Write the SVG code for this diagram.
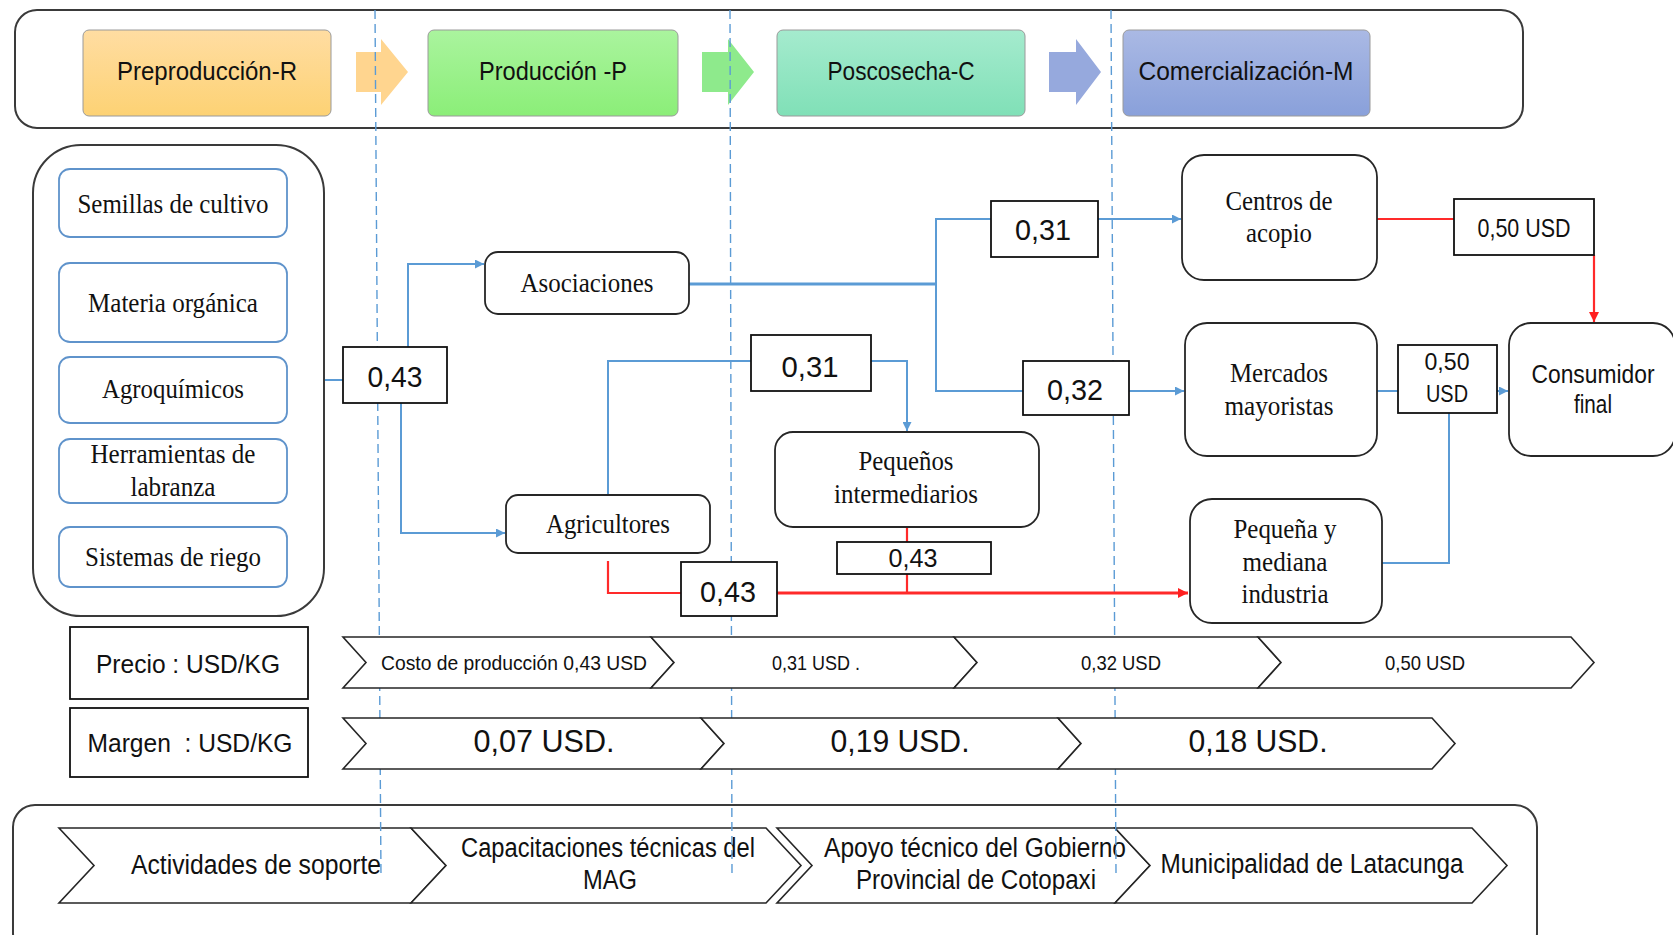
<svg xmlns="http://www.w3.org/2000/svg" width="1673" height="935" viewBox="0 0 1673 935">
<defs>
<linearGradient id="gO" x1="0" y1="0" x2="0" y2="1"><stop offset="0" stop-color="#FFDDA2"/><stop offset="1" stop-color="#FDD274"/></linearGradient>
<linearGradient id="gG" x1="0" y1="0" x2="0" y2="1"><stop offset="0" stop-color="#AAF49E"/><stop offset="1" stop-color="#8BEE78"/></linearGradient>
<linearGradient id="gT" x1="0" y1="0" x2="0" y2="1"><stop offset="0" stop-color="#A5EBCE"/><stop offset="1" stop-color="#80E0B7"/></linearGradient>
<linearGradient id="gB" x1="0" y1="0" x2="0" y2="1"><stop offset="0" stop-color="#AAB9E4"/><stop offset="1" stop-color="#89A0DA"/></linearGradient>
<marker id="ab" viewBox="0 0 10 10" refX="10" refY="5" markerWidth="9" markerHeight="9" markerUnits="userSpaceOnUse" orient="auto"><path d="M0,0 L10,5 L0,10 Z" fill="#5B9BD5"/></marker>
<marker id="ar" viewBox="0 0 10 10" refX="10" refY="5" markerWidth="10" markerHeight="10" markerUnits="userSpaceOnUse" orient="auto"><path d="M0,0 L10,5 L0,10 Z" fill="#FF2020"/></marker>
</defs>
<style>
.frame{fill:#fff;stroke:#3a3a3a;stroke-width:2}
.phase{stroke:#9a9a9a;stroke-width:1}
.item{fill:#fff;stroke:#5F93CB;stroke-width:1.8}
.node{fill:#fff;stroke:#262626;stroke-width:1.8}
.val{fill:#fff;stroke:#111;stroke-width:1.8}
.chev{fill:#fff;stroke:#262626;stroke-width:1.6}
.b{fill:none;stroke:#5B9BD5;stroke-width:2}
.r{fill:none;stroke:#FF2A2A;stroke-width:2.2}
.dash{fill:none;stroke:#5B9BD5;stroke-width:1.4;stroke-dasharray:9 5}
.sr{font-family:'Liberation Serif','Times New Roman',serif;font-size:27px;fill:#111;text-anchor:middle}
.ss{font-family:'Liberation Sans',Arial,sans-serif;fill:#111;text-anchor:middle}
</style>
<rect width="1673" height="935" fill="#fff"/>

<g id="top-banner">
<rect class="frame" x="15" y="10" width="1508" height="118" rx="22"/>
</g>
<g id="phase-arrows">
<path d="M356,52 H381 V39 L408,72 L381,105 V92 H356 Z" fill="#FFD58F"/>
<path d="M702,52 H728 V39 L754,72 L728,105 V92 H702 Z" fill="#8EEA8C"/>
<path d="M1049,52 H1076 V39 L1101,72 L1076,105 V92 H1049 Z" fill="#96A9DD"/>
</g>
<g id="preproduccion"><rect class="phase" x="83" y="30" width="248" height="86" rx="6" fill="url(#gO)"/><text class="ss" x="207" y="80" font-size="25" textLength="180" lengthAdjust="spacingAndGlyphs">Preproducción-R</text></g>
<g id="produccion"><rect class="phase" x="428" y="30" width="250" height="86" rx="6" fill="url(#gG)"/><text class="ss" x="553" y="80" font-size="25" textLength="148" lengthAdjust="spacingAndGlyphs">Producción -P</text></g>
<g id="poscosecha"><rect class="phase" x="777" y="30" width="248" height="86" rx="6" fill="url(#gT)"/><text class="ss" x="901" y="80" font-size="25" textLength="147" lengthAdjust="spacingAndGlyphs">Poscosecha-C</text></g>
<g id="comercializacion"><rect class="phase" x="1123" y="30" width="247" height="86" rx="6" fill="url(#gB)"/><text class="ss" x="1246" y="80" font-size="25" textLength="215" lengthAdjust="spacingAndGlyphs">Comercialización-M</text></g>

<g id="bottom-frame"><rect class="frame" x="13" y="805" width="1524" height="150" rx="22"/></g>
<g id="support-row">
<path class="chev" d="M59,828 H411 L446,865.5 L411,903 H59 L94,865.5 Z"/>
<path class="chev" d="M411,828 H766 L801,865.5 L766,903 H411 L446,865.5 Z"/>
<path class="chev" d="M777,828 H1115 L1150,865.5 L1115,903 H777 L812,865.5 Z"/>
<path class="chev" d="M1115,828 H1472 L1507,865.5 L1472,903 H1115 L1150,865.5 Z"/>
<text class="ss" x="256" y="874" font-size="27" textLength="250" lengthAdjust="spacingAndGlyphs">Actividades de soporte</text>
<text class="ss" x="608" y="857" font-size="27" textLength="294" lengthAdjust="spacingAndGlyphs">Capacitaciones técnicas del</text>
<text class="ss" x="610" y="889" font-size="27" textLength="54" lengthAdjust="spacingAndGlyphs">MAG</text>
<text class="ss" x="975" y="857" font-size="27" textLength="302" lengthAdjust="spacingAndGlyphs">Apoyo técnico del Gobierno</text>
<text class="ss" x="976" y="889" font-size="27" textLength="240" lengthAdjust="spacingAndGlyphs">Provincial de Cotopaxi</text>
<text class="ss" x="1312" y="873" font-size="27" textLength="303" lengthAdjust="spacingAndGlyphs">Municipalidad de Latacunga</text>
</g>

<g id="dashed-dividers">
<path class="dash" d="M375,10 L381,878"/>
<path class="dash" d="M730,10 L732,876"/>
<path class="dash" d="M1111,10 L1116,873"/>
</g>

<g id="connectors">
<path class="b" d="M323,380 H343"/>
<path class="b" d="M408,347 V264 H484" marker-end="url(#ab)"/>
<path class="b" d="M401,403 V533 H505" marker-end="url(#ab)"/>
<path class="b" d="M689,284 H936" style="stroke-width:3"/>
<path class="b" d="M991,219 H936 V391 H1023"/>
<path class="b" d="M1098,219 H1181" marker-end="url(#ab)"/>
<path class="b" d="M1129,391 H1184" marker-end="url(#ab)"/>
<path class="b" d="M1377,391 H1398"/>
<path class="b" d="M1497,391 H1508" marker-end="url(#ab)"/>
<path class="b" d="M1382,563 H1449 V413"/>
<path class="b" d="M608,495 V361 H751"/>
<path class="b" d="M871,361 H907 V431" marker-end="url(#ab)"/>
<path class="r" d="M1377,219 H1454"/>
<path class="r" d="M1594,255 V322" marker-end="url(#ar)"/>
<path class="r" d="M907,527 V542"/>
<path class="r" d="M907,574 V593"/>
<path class="r" d="M608,561 V593 H681"/>
<path class="r" d="M777,593 H1188" style="stroke-width:3" marker-end="url(#ar)"/>
</g>

<g id="inputs">
<rect class="frame" x="33" y="145" width="291" height="471" rx="48"/>
<g id="semillas"><rect class="item" x="59" y="169" width="228" height="68" rx="11"/><text class="sr" x="173" y="213" textLength="191" lengthAdjust="spacingAndGlyphs">Semillas de cultivo</text></g>
<g id="materia"><rect class="item" x="59" y="263" width="228" height="79" rx="11"/><text class="sr" x="173" y="312" textLength="170" lengthAdjust="spacingAndGlyphs">Materia orgánica</text></g>
<g id="agroquimicos"><rect class="item" x="59" y="357" width="228" height="66" rx="11"/><text class="sr" x="173" y="398" textLength="142" lengthAdjust="spacingAndGlyphs">Agroquímicos</text></g>
<g id="herramientas"><rect class="item" x="59" y="439" width="228" height="64" rx="11"/><text class="sr" x="173" y="463" textLength="165" lengthAdjust="spacingAndGlyphs">Herramientas de</text><text class="sr" x="173" y="496" textLength="85" lengthAdjust="spacingAndGlyphs">labranza</text></g>
<g id="sistemas"><rect class="item" x="59" y="527" width="228" height="60" rx="11"/><text class="sr" x="173" y="566" textLength="176" lengthAdjust="spacingAndGlyphs">Sistemas de riego</text></g>
</g>

<g id="v-043-a"><rect class="val" x="343" y="347" width="104" height="56"/><text class="ss" x="395" y="387" font-size="30" textLength="55" lengthAdjust="spacingAndGlyphs">0,43</text></g>
<g id="asociaciones"><rect class="node" x="485" y="252" width="204" height="62" rx="13"/><text class="sr" x="587" y="292" textLength="133" lengthAdjust="spacingAndGlyphs">Asociaciones</text></g>
<g id="agricultores"><rect class="node" x="506" y="495" width="204" height="58" rx="12"/><text class="sr" x="608" y="533" textLength="124" lengthAdjust="spacingAndGlyphs">Agricultores</text></g>
<g id="v-031-b"><rect class="val" x="751" y="335" width="120" height="56"/><text class="ss" x="810" y="377" font-size="30" textLength="57" lengthAdjust="spacingAndGlyphs">0,31</text></g>
<g id="pequenos"><rect class="node" x="775" y="432" width="264" height="95" rx="18"/><text class="sr" x="906" y="470" textLength="95" lengthAdjust="spacingAndGlyphs">Pequeños</text><text class="sr" x="906" y="503" textLength="144" lengthAdjust="spacingAndGlyphs">intermediarios</text></g>
<g id="v-043-c"><rect class="val" x="837" y="542" width="154" height="32"/><text class="ss" x="913" y="567" font-size="26" textLength="49" lengthAdjust="spacingAndGlyphs">0,43</text></g>
<g id="v-043-b"><rect class="val" x="681" y="562" width="96" height="54"/><text class="ss" x="728" y="602" font-size="30" textLength="56" lengthAdjust="spacingAndGlyphs">0,43</text></g>
<g id="v-031-a"><rect class="val" x="991" y="201" width="107" height="56"/><text class="ss" x="1043" y="240" font-size="30" textLength="56" lengthAdjust="spacingAndGlyphs">0,31</text></g>
<g id="v-032"><rect class="val" x="1023" y="361" width="106" height="54"/><text class="ss" x="1075" y="400" font-size="30" textLength="56" lengthAdjust="spacingAndGlyphs">0,32</text></g>
<g id="centros"><rect class="node" x="1182" y="155" width="195" height="125" rx="22"/><text class="sr" x="1279" y="210" textLength="107" lengthAdjust="spacingAndGlyphs">Centros de</text><text class="sr" x="1279" y="242" textLength="66" lengthAdjust="spacingAndGlyphs">acopio</text></g>
<g id="mercados"><rect class="node" x="1185" y="323" width="192" height="133" rx="22"/><text class="sr" x="1279" y="382" textLength="98" lengthAdjust="spacingAndGlyphs">Mercados</text><text class="sr" x="1279" y="415" textLength="109" lengthAdjust="spacingAndGlyphs">mayoristas</text></g>
<g id="pequena-industria"><rect class="node" x="1190" y="499" width="192" height="124" rx="22"/><text class="sr" x="1285" y="538" textLength="103" lengthAdjust="spacingAndGlyphs">Pequeña y</text><text class="sr" x="1285" y="571" textLength="85" lengthAdjust="spacingAndGlyphs">mediana</text><text class="sr" x="1285" y="603" textLength="87" lengthAdjust="spacingAndGlyphs">industria</text></g>
<g id="v-050-a"><rect class="val" x="1454" y="199" width="140" height="56"/><text class="ss" x="1524" y="237" font-size="25" textLength="93" lengthAdjust="spacingAndGlyphs">0,50 USD</text></g>
<g id="v-050-b"><rect class="val" x="1398" y="345" width="99" height="68"/><text class="ss" x="1447" y="370" font-size="24" textLength="45" lengthAdjust="spacingAndGlyphs">0,50</text><text class="ss" x="1447" y="402" font-size="24" textLength="42" lengthAdjust="spacingAndGlyphs">USD</text></g>
<g id="consumidor"><rect class="node" x="1509" y="323" width="166" height="133" rx="22"/><text class="ss" x="1593" y="383" font-size="25" textLength="123" lengthAdjust="spacingAndGlyphs">Consumidor</text><text class="ss" x="1593" y="413" font-size="25" textLength="38" lengthAdjust="spacingAndGlyphs">final</text></g>

<g id="precio-label"><rect class="val" x="70" y="627" width="238" height="72"/><text class="ss" x="188" y="673" font-size="25" textLength="184" lengthAdjust="spacingAndGlyphs">Precio : USD/KG</text></g>
<g id="margen-label"><rect class="val" x="70" y="708" width="238" height="69"/><text class="ss" x="190" y="752" font-size="25" textLength="205" lengthAdjust="spacingAndGlyphs" xml:space="preserve">Margen  : USD/KG</text></g>

<g id="price-row">
<path class="chev" d="M343,637 H651 L674,662.5 L651,688 H343 L366,662.5 Z"/>
<path class="chev" d="M651,637 H954 L977,662.5 L954,688 H651 L674,662.5 Z"/>
<path class="chev" d="M954,637 H1258 L1281,662.5 L1258,688 H954 L977,662.5 Z"/>
<path class="chev" d="M1258,637 H1571 L1594,662.5 L1571,688 H1258 L1281,662.5 Z"/>
<text class="ss" x="514" y="670" font-size="21" textLength="266" lengthAdjust="spacingAndGlyphs">Costo de producción 0,43 USD</text>
<text class="ss" x="816" y="670" font-size="21" textLength="88" lengthAdjust="spacingAndGlyphs">0,31 USD .</text>
<text class="ss" x="1121" y="670" font-size="21" textLength="80" lengthAdjust="spacingAndGlyphs">0,32 USD</text>
<text class="ss" x="1425" y="670" font-size="21" textLength="80" lengthAdjust="spacingAndGlyphs">0,50 USD</text>
</g>
<g id="margin-row">
<path class="chev" d="M343,718 H701 L724,743.5 L701,769 H343 L366,743.5 Z"/>
<path class="chev" d="M701,718 H1058 L1081,743.5 L1058,769 H701 L724,743.5 Z"/>
<path class="chev" d="M1058,718 H1432 L1455,743.5 L1432,769 H1058 L1081,743.5 Z"/>
<text class="ss" x="544" y="752" font-size="32" textLength="141" lengthAdjust="spacingAndGlyphs">0,07 USD.</text>
<text class="ss" x="900" y="752" font-size="32" textLength="139" lengthAdjust="spacingAndGlyphs">0,19 USD.</text>
<text class="ss" x="1258" y="752" font-size="32" textLength="139" lengthAdjust="spacingAndGlyphs">0,18 USD.</text>
</g>
</svg>
